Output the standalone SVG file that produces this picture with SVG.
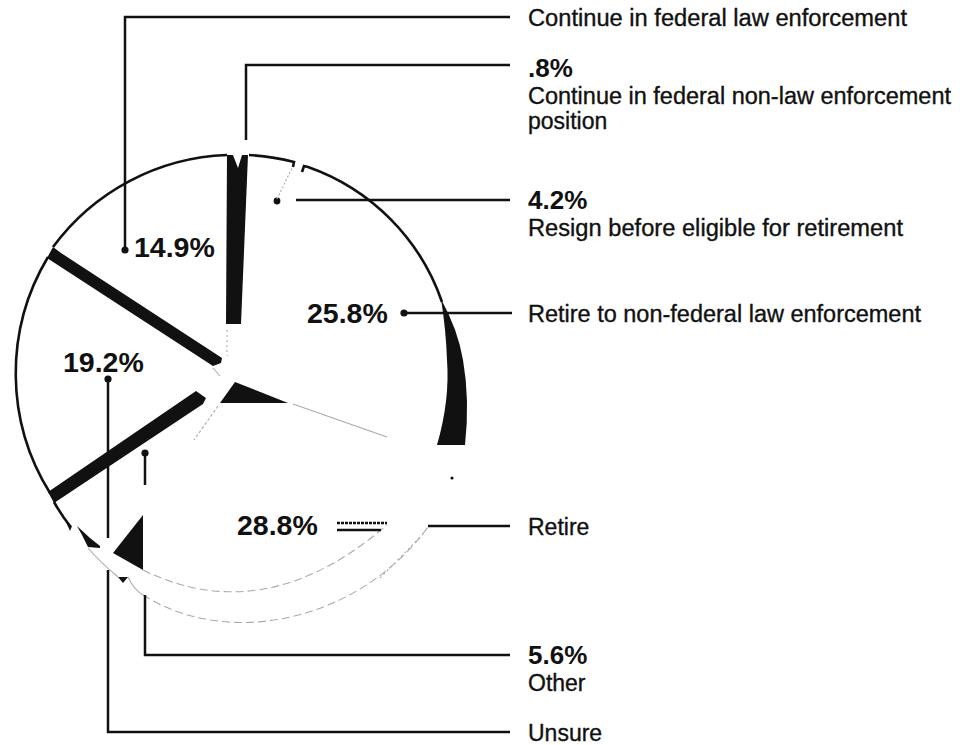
<svg xmlns="http://www.w3.org/2000/svg" width="972" height="745" viewBox="0 0 972 745">
<style>
.lbl{font-family:"Liberation Sans",Arial,Helvetica,sans-serif;font-size:23px;fill:#111;stroke:#111;stroke-width:0.35}
.pct{font-family:"Liberation Sans",Arial,Helvetica,sans-serif;font-size:26px;font-weight:bold;fill:#111}
.ppct{font-family:"Liberation Sans",Arial,Helvetica,sans-serif;font-size:28.5px;font-weight:bold;fill:#111}
.ld{fill:none;stroke:#111;stroke-width:2.5}
.arc{fill:none;stroke:#111;stroke-width:2.6}
.faint{fill:none;stroke:#aaa;stroke-width:1.1}
.dot{fill:#111}
.blk{fill:#111}
</style>
<rect width="972" height="745" fill="#fff"/>
<g id="pie">
<path class="arc" d="M53,247 A226,226 0 0 1 227,155"/>
<path class="blk" d="M227,155 L233,155 L238,168 L242,155 L248,155 L241,324 L226,324 Z"/>
<path class="arc" d="M249,155 A226,226 0 0 1 294,162 L293,167"/>
<path class="arc" d="M302,172 L304,166 L308,167 A218,218 0 0 1 442,302"/>
<path class="blk" d="M441,299 Q458,330 463,360 Q470,400 465,445 L437,445 Q450,400 447,360 Q446,330 441,299 Z"/>
<path class="blk" d="M53,247 L61,253 L222,358 L221,363 L213,366 L47,258 Z"/>
<path class="arc" d="M48,257 A226,226 0 0 0 50,493"/>
<path class="blk" d="M48,492 L196,391 L206,398 L203,404 L54,503 Z"/>
<path class="arc" d="M54,502 Q62,516 70,526"/>
<path class="blk" d="M66,522 L72,526 L70,531 Z"/>
<path class="blk" d="M77,526 L90,538 L100,546 L100,548 L88,547 L82,535 Z"/>
<path class="faint" d="M88,548 Q100,562 118,577"/>
<path class="faint" d="M128,577 Q134,590 143,595"/>
<path class="blk" d="M235,382 L220,403 L288,403 Z"/>
<path class="blk" d="M143,515 L113,553 L143,570 Z"/>
<path class="blk" d="M118,577 L128,577 L123,583 Z"/>
<path class="faint" d="M293,404 L387,437"/>
<path class="faint" d="M218,406 L194,440" stroke-dasharray="3 2"/>
<path class="faint" d="M213,368 L220,376"/>
<path class="faint" d="M227,330 L227,356" stroke-dasharray="2 3"/>
<path class="faint" d="M143,570 Q265,630 387,525" stroke-dasharray="8 4"/>
<path class="faint" d="M143,595 C230,650 360,620 428,527" stroke-dasharray="8 4"/>
<circle class="dot" cx="452" cy="478" r="1.6"/>
</g>
<g id="connectors">
<polyline class="ld" points="125,250 125,17 510,17"/>
<circle class="dot" cx="125" cy="250" r="3.6"/>
<polyline class="ld" points="246,140 246,65 510,65"/>
<line class="ld" x1="296" y1="200" x2="510" y2="200"/>
<circle class="dot" cx="277" cy="201" r="3.4"/>
<line class="faint" x1="277" y1="199" x2="292" y2="168" stroke-dasharray="2 2"/>
<line class="ld" x1="404" y1="313" x2="512" y2="313"/>
<circle class="dot" cx="404" cy="313" r="3.6"/>
<line class="ld" x1="337" y1="523" x2="387" y2="523" stroke-dasharray="3 1"/>
<line class="ld" x1="337" y1="530" x2="381" y2="530"/>
<line class="ld" x1="428" y1="526" x2="510" y2="526"/>
<line class="faint" x1="380" y1="578" x2="424" y2="533" stroke-dasharray="2 3"/>
<line class="ld" x1="145" y1="453" x2="145" y2="485"/>
<circle class="dot" cx="145" cy="453" r="3.6"/>
<polyline class="ld" points="145,595 145,655 510,655"/>
<line class="ld" x1="108" y1="379" x2="108" y2="538"/>
<circle class="dot" cx="108" cy="379" r="3.6"/>
<polyline class="ld" points="108,570 108,732 510,732"/>
</g>
<g id="n-continue-law">
<text class="lbl" x="528" y="26" textLength="379" lengthAdjust="spacingAndGlyphs">Continue in federal law enforcement</text>
<text class="ppct" x="134" y="257">14.9%</text>
</g>
<g id="n-nonlaw">
<text class="pct" x="528" y="77">.8%</text>
<text class="lbl" x="528" y="104" textLength="423" lengthAdjust="spacingAndGlyphs">Continue in federal non-law enforcement</text>
<text class="lbl" x="528" y="129">position</text>
</g>
<g id="n-resign">
<text class="pct" x="528" y="209">4.2%</text>
<text class="lbl" x="528" y="236" textLength="375" lengthAdjust="spacingAndGlyphs">Resign before eligible for retirement</text>
</g>
<g id="n-retire-nonfed">
<text class="ppct" x="307" y="323">25.8%</text>
<text class="lbl" x="528" y="322" textLength="393" lengthAdjust="spacingAndGlyphs">Retire to non-federal law enforcement</text>
</g>
<g id="n-retire">
<text class="ppct" x="237" y="535">28.8%</text>
<text class="lbl" x="528" y="535">Retire</text>
</g>
<g id="n-other">
<text class="pct" x="528" y="664">5.6%</text>
<text class="lbl" x="528" y="691">Other</text>
</g>
<g id="n-unsure">
<text class="ppct" x="63" y="372">19.2%</text>
<text class="lbl" x="528" y="741">Unsure</text>
</g>
</svg>
